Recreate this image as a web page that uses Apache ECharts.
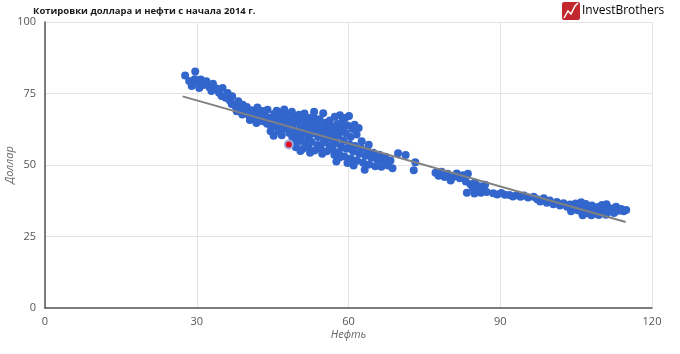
<!DOCTYPE html>
<html>
<head>
<meta charset="utf-8">
<script src="https://cdn.jsdelivr.net/npm/echarts@6/dist/echarts.min.js"></script>
<style>
html, body { margin: 0; padding: 0; background: #fff; }
#chart { width: 680px; height: 354px; }
</style>
</head>
<body>
<div id="chart"></div>
<script>
const chartTitle = 'Котировки доллара и нефти с начала 2014 г.';
const xName = 'Нефть';
const yName = 'Доллар';
const xTicks = [0, 30, 60, 90, 120];
const yTicks = [0, 25, 50, 75, 100];

// [нефть, доллар]
const quotes = [
    [27.7,81.3],[29.7,82.7],[28.5,79.4],[29.0,77.6],[29.6,80.0],[30.2,78.4],[30.8,79.9],[30.5,76.9],
    [31.3,78.0],[31.9,79.3],[32.5,77.2],[33.2,78.4],[32.9,75.9],[33.8,76.8],[34.4,75.3],[35.1,76.9],
    [34.9,74.1],[35.7,73.5],[36.1,75.2],[36.5,72.6],[37.0,74.0],[36.9,71.3],
    [37.6,70.6],[38.2,72.3],[38.6,69.6],[39.1,71.1],[39.4,68.3],[39.9,70.3],[40.3,67.4],[40.8,69.1],
    [41.2,66.5],[41.6,68.2],[42.0,70.1],[42.3,66.0],[42.7,67.7],[43.1,65.3],[43.5,67.1],[43.9,64.4],
    [44.3,66.4],[44.7,63.6],[37.9,68.8],[39.0,67.7],[40.5,65.7],[41.8,64.7],[43.0,68.9],[44.0,69.3],
    [45.0,65.6],[45.3,67.8],[45.6,63.5],[45.9,66.3],[46.2,61.9],[46.4,68.4],[46.7,64.6],[47.0,66.9],
    [47.2,62.8],[47.5,65.2],[47.8,67.9],[48.0,63.7],[48.3,61.2],[48.5,66.0],[48.8,68.6],[49.0,64.2],
    [49.3,62.0],[49.5,66.8],[49.8,60.6],[50.0,65.0],[50.2,67.6],[50.5,63.1],[50.8,61.4],[51.0,65.9],
    [51.3,68.0],[51.5,62.3],[51.8,64.5],[52.0,60.1],[52.3,66.4],[52.5,63.5],[52.8,61.0],[53.0,65.1],
    [53.2,68.6],[53.5,62.4],[53.8,64.0],[54.0,59.8],[54.3,66.0],[54.5,61.6],[54.8,63.3],[55.0,68.1],
    [55.2,60.5],[55.5,64.8],[55.8,62.2],[56.0,59.4],[56.3,65.6],[56.5,61.0],[56.8,63.4],[57.0,59.0],
    [57.3,66.9],[57.5,62.0],[57.8,64.3],[58.0,60.2],[58.3,67.4],[58.5,62.9],[58.8,65.3],[59.0,58.6],
    [59.3,66.4],[59.5,61.1],[59.8,63.8],[60.1,67.1],[60.4,59.8],[60.8,62.6],[61.2,64.1],[61.6,60.7],
    [62.0,62.9],[45.8,69.0],[47.3,69.4],[46.8,60.4],[48.9,59.6],[50.6,59.2],[53.1,66.9],[44.6,61.8],
    [45.2,60.2],[46.1,65.0],[47.7,63.9],[49.1,66.1],[50.4,64.4],[51.9,62.9],[53.4,64.6],[54.9,62.0],
    [56.2,63.7],[57.6,60.7],[58.9,61.9],[52.2,59.0],[55.4,58.6],
    [49.0,57.6],[49.6,56.2],[50.2,58.3],[50.9,55.6],[51.5,57.4],[52.1,56.0],[52.7,58.0],[53.3,55.1],
    [53.9,57.0],[54.5,55.8],[55.1,57.9],[55.7,54.8],[56.3,56.6],[56.9,55.4],[57.5,57.6],[58.1,54.5],
    [50.5,54.9],[52.4,54.3],[54.8,53.9],[57.2,53.6],
    [58.6,56.3],[59.2,53.0],[59.6,55.7],[60.2,57.2],[60.5,52.3],[60.9,54.8],[61.3,56.6],[61.7,51.5],
    [62.1,53.9],[62.5,55.9],[62.9,50.8],[63.3,53.2],[63.7,55.1],[64.1,50.2],[64.5,52.5],[64.9,54.3],
    [65.3,49.6],[65.7,51.8],[66.1,53.6],[66.5,49.4],[66.9,51.2],[67.3,52.9],[67.8,49.8],[68.3,51.6],
    [68.7,48.9],[69.8,54.1],[71.3,53.5],[73.2,51.0],[72.9,48.2],[62.6,58.3],[64.0,57.1],[61.0,49.8],
    [63.2,48.3],[59.8,50.7],[57.6,51.2],[58.2,52.6],
    [77.2,47.3],[77.8,46.2],[78.4,47.6],[79.0,45.8],[79.6,46.9],[80.2,44.6],[80.8,45.9],[81.4,47.0],
    [82.0,45.4],[82.6,46.4],[83.2,44.2],[83.6,46.9],[84.1,43.3],[84.6,42.0],[85.0,43.9],[85.4,41.0],
    [85.8,42.6],[86.2,40.3],[86.6,41.8],[87.0,43.1],[87.3,40.6],[83.4,40.3],[84.9,40.0],
    [88.6,40.1],[89.4,39.7],[90.2,40.2],[90.9,39.6],[91.8,39.5],[92.5,39.0],[93.2,39.4],[94.0,38.9],
    [94.7,39.3],[95.5,38.6],[96.6,38.9],[97.3,38.0],[97.9,37.2],[98.6,38.4],[99.2,36.8],[99.8,37.6],
    [100.5,36.3],[101.2,37.1],[101.8,35.8],[102.5,36.6],[103.2,35.4],[103.8,36.2],[104.4,35.0],[104.9,36.5],
    [105.3,34.2],[105.7,35.7],[106.1,33.5],[106.5,34.9],[106.9,36.4],[107.3,33.1],[107.7,34.4],[108.1,35.8],
    [108.5,32.9],[108.9,34.0],[109.3,35.3],[109.7,33.4],[110.1,36.0],[110.5,34.5],[110.9,32.6],[111.3,35.1],
    [111.7,33.7],[112.1,34.8],[112.5,33.2],[112.9,35.4],[113.4,34.0],[113.9,34.6],[114.4,33.8],[114.9,34.3],
    [106.3,32.4],[108.0,32.4],[109.5,32.5],[104.0,33.8],[106.0,37.0],[111.0,36.3]
];

const selected = [[48.2, 57.2]];
const trend = [[27.2, 74.0], [114.8, 30.1]];

const labelFont = { color: '#555', fontSize: 11, fontFamily: 'Open Sans' };

const chart = echarts.init(document.getElementById('chart'));
chart.setOption({
    animation: false,
    backgroundColor: '#fff',
    title: {
        text: chartTitle,
        left: 28,
        top: 1,
        textStyle: { fontSize: 9.5, fontWeight: 'bold', color: '#1a1a1a', fontFamily: 'Open Sans' }
    },
    graphic: [
        {
            type: 'rect',
            left: 562, top: 2,
            shape: { width: 18, height: 18, r: 2 },
            style: { fill: '#c1272d' }
        },
        {
            type: 'polyline',
            shape: { points: [[564, 18], [568, 11], [571, 14], [575, 6], [578, 3]] },
            style: { stroke: '#fff', lineWidth: 1.5, fill: null }
        },
        {
            type: 'text',
            left: 582, top: 5,
            style: {
                text: '{a|Invest}{b|Brothers}',
                rich: {
                    a: { fontSize: 12, color: '#4a4a4a', fontFamily: 'Open Sans' },
                    b: { fontSize: 12, color: '#c9474a', fontFamily: 'Open Sans' }
                }
            }
        }
    ],
    grid: { left: 45, right: 28, top: 22, bottom: 46, containLabel: false, outerBoundsMode: 'none' },
    xAxis: {
        type: 'value',
        min: xTicks[0], max: xTicks[xTicks.length - 1], interval: 30,
        name: xName, nameLocation: 'middle', nameGap: 21, nameMoveOverlap: false,
        nameTextStyle: { color: '#666', fontSize: 11, fontStyle: 'italic', fontFamily: 'Open Sans' },
        axisLine: { show: true, lineStyle: { color: '#555', width: 1.5 } },
        axisTick: { show: false },
        axisLabel: Object.assign({ margin: 8 }, labelFont),
        splitLine: { show: true, lineStyle: { color: '#e4e4e4', width: 1 } }
    },
    yAxis: {
        type: 'value',
        min: yTicks[0], max: yTicks[yTicks.length - 1], interval: 25,
        name: yName, nameLocation: 'middle', nameGap: 30, nameMoveOverlap: false,
        nameTextStyle: { color: '#666', fontSize: 11, fontStyle: 'italic', fontFamily: 'Open Sans' },
        axisLine: { show: true, lineStyle: { color: '#555', width: 1.5 } },
        axisTick: { show: false },
        axisLabel: Object.assign({ margin: 9 }, labelFont),
        splitLine: { show: true, lineStyle: { color: '#e4e4e4', width: 1 } }
    },
    series: [
        {
            type: 'scatter',
            data: quotes,
            symbolSize: 8,
            itemStyle: { color: '#3366cc', opacity: 1 },
            z: 2
        },
        {
            type: 'line',
            data: trend,
            symbol: 'none',
            lineStyle: { color: '#808080', width: 2 },
            z: 3
        },
        {
            type: 'scatter',
            data: selected,
            symbolSize: 8,
            itemStyle: { color: '#e0102a', borderColor: 'rgba(160,180,225,0.9)', borderWidth: 2, opacity: 1 },
            z: 4
        }
    ]
});
</script>
</body>
</html>
